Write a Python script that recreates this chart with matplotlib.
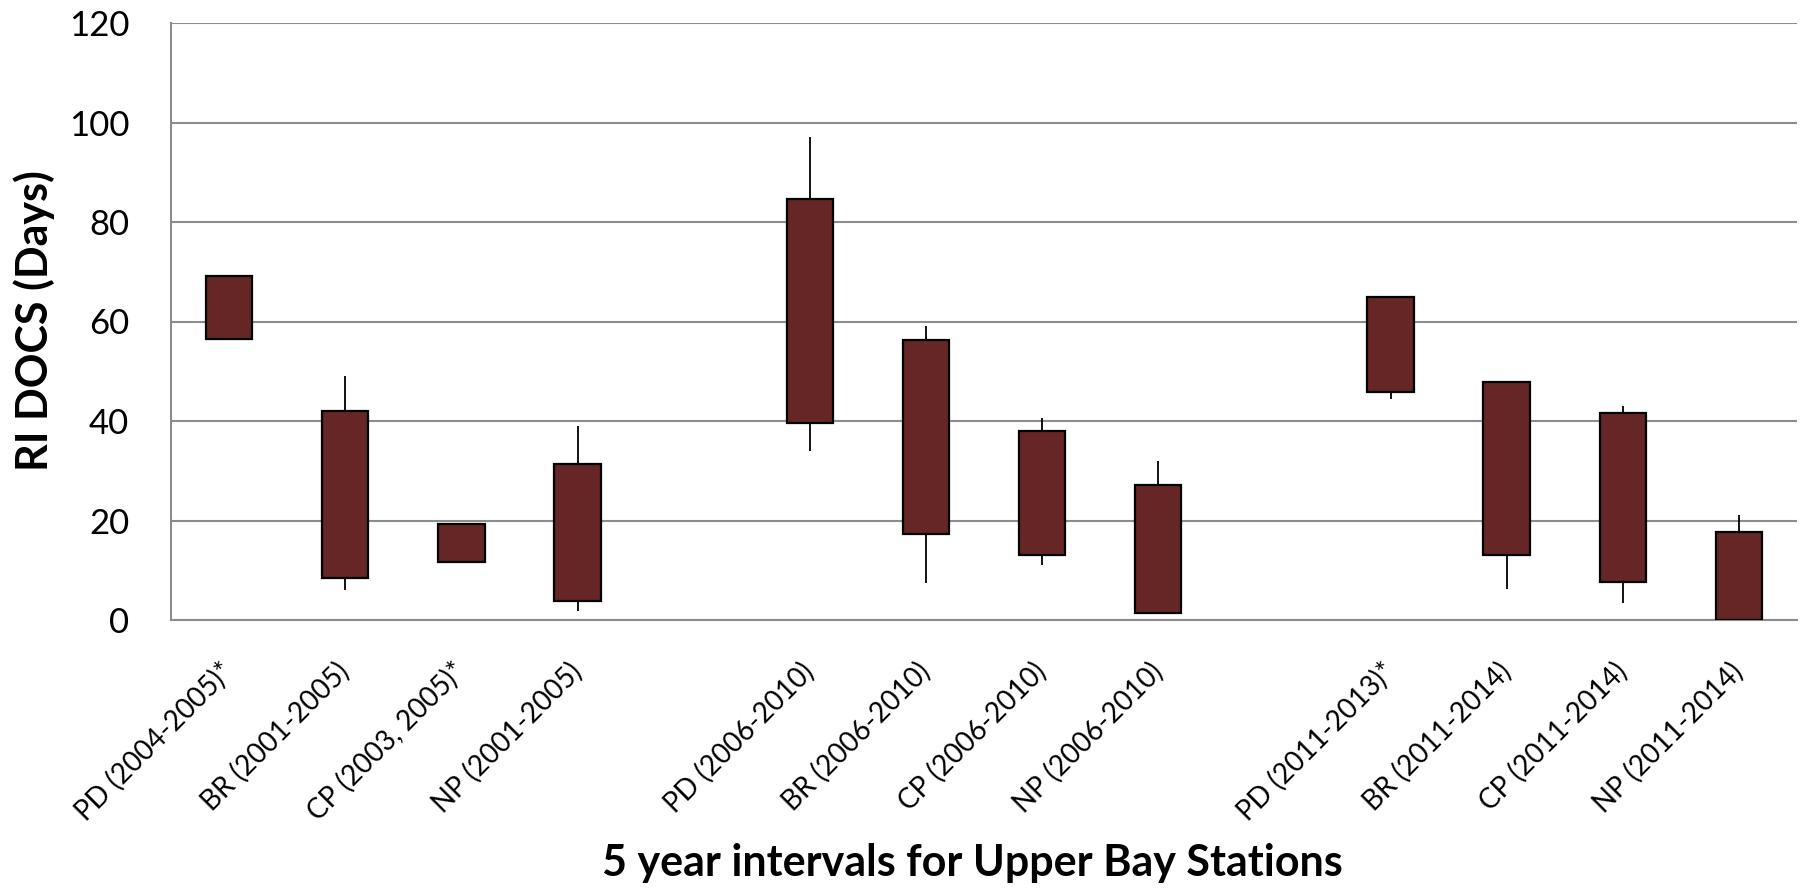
import numpy as np
import matplotlib
matplotlib.use("Agg")
import matplotlib.pyplot as plt
import matplotlib.transforms as mtransforms

plt.rcParams['font.family'] = ['Lato', 'DejaVu Sans']

# ---- data (blank categories are gaps between the 5-year groups) ----
categories = ["PD (2004-2005)*", "BR (2001-2005)", "CP (2003, 2005)*", "NP (2001-2005)", "",
              "PD (2006-2010)", "BR (2006-2010)", "CP (2006-2010)", "NP (2006-2010)", "",
              "PD (2011-2013)*", "BR (2011-2014)", "CP (2011-2014)", "NP (2011-2014)"]
box_low = [56.4, 8.4, 11.6, 3.9, np.nan,
           39.5, 17.2, 13.0, 1.4, np.nan,
           45.9, 13.0, 7.6, 0.0]
box_high = [69.2, 42.0, 19.3, 31.3, np.nan,
            84.7, 56.2, 38.0, 27.2, np.nan,
            65.0, 47.8, 41.6, 17.7]
whisker_low = [56.4, 6.1, 11.6, 1.8, np.nan,
               33.9, 7.4, 11.1, 1.4, np.nan,
               44.5, 6.3, 3.4, 0.0]
whisker_high = [69.2, 49.1, 19.3, 39.0, np.nan,
                97.0, 59.1, 40.6, 32.0, np.nan,
                65.0, 47.8, 43.1, 21.1]
y_ticks = [0, 20, 40, 60, 80, 100, 120]

W, H = 1800, 890
fig = plt.figure(figsize=(W / 100, H / 100), dpi=100)
ax = fig.add_axes([171 / W, 1 - 620 / H, (1797 - 171) / W, (620 - 23) / H])

x = np.arange(len(categories))
bl = np.array(box_low); bh = np.array(box_high)
wl = np.array(whisker_low); wh = np.array(whisker_high)
valid = ~np.isnan(bl)

ax.vlines(x[valid], wl[valid], wh[valid], colors='black', linewidth=1.3, zorder=2)
ax.bar(x[valid], (bh - bl)[valid], bottom=bl[valid], width=0.4,
       color='#662626', edgecolor='black', linewidth=1.6, zorder=3)

ax.set_xlim(-0.5, len(categories) - 0.5)
ax.set_ylim(0, 120)
ax.set_yticks(y_ticks)
ax.set_yticklabels([str(v) for v in y_ticks], fontsize=25)
ax.yaxis.grid(True, color='#8c8c8c', linewidth=1.5, zorder=0)
ax.set_axisbelow(True)

ax.set_xticks(x)
ax.set_xticklabels(categories, rotation=45, ha='right', va='center',
                   rotation_mode='anchor', fontsize=20)
offset = mtransforms.ScaledTranslation(9 / 100, 0, fig.dpi_scale_trans)
for lab in ax.get_xticklabels():
    lab.set_transform(lab.get_transform() + offset)

ax.tick_params(axis='x', length=0, pad=34)
ax.tick_params(axis='y', length=0, pad=30)

for s in ['top', 'right']:
    ax.spines[s].set_visible(False)
for s in ['left', 'bottom']:
    ax.spines[s].set_color('#8c8c8c')
    ax.spines[s].set_linewidth(1.5)

fig.text(34 / W, 1 - 321 / H, "RI DOCS (Days)", rotation=90, fontsize=31,
         fontweight='bold', ha='center', va='center')
fig.text(972 / W, 1 - 863 / H, "5 year intervals for Upper Bay Stations", fontsize=31,
         fontweight='bold', ha='center', va='center')

fig.savefig("out.png", dpi=100, facecolor='white')
